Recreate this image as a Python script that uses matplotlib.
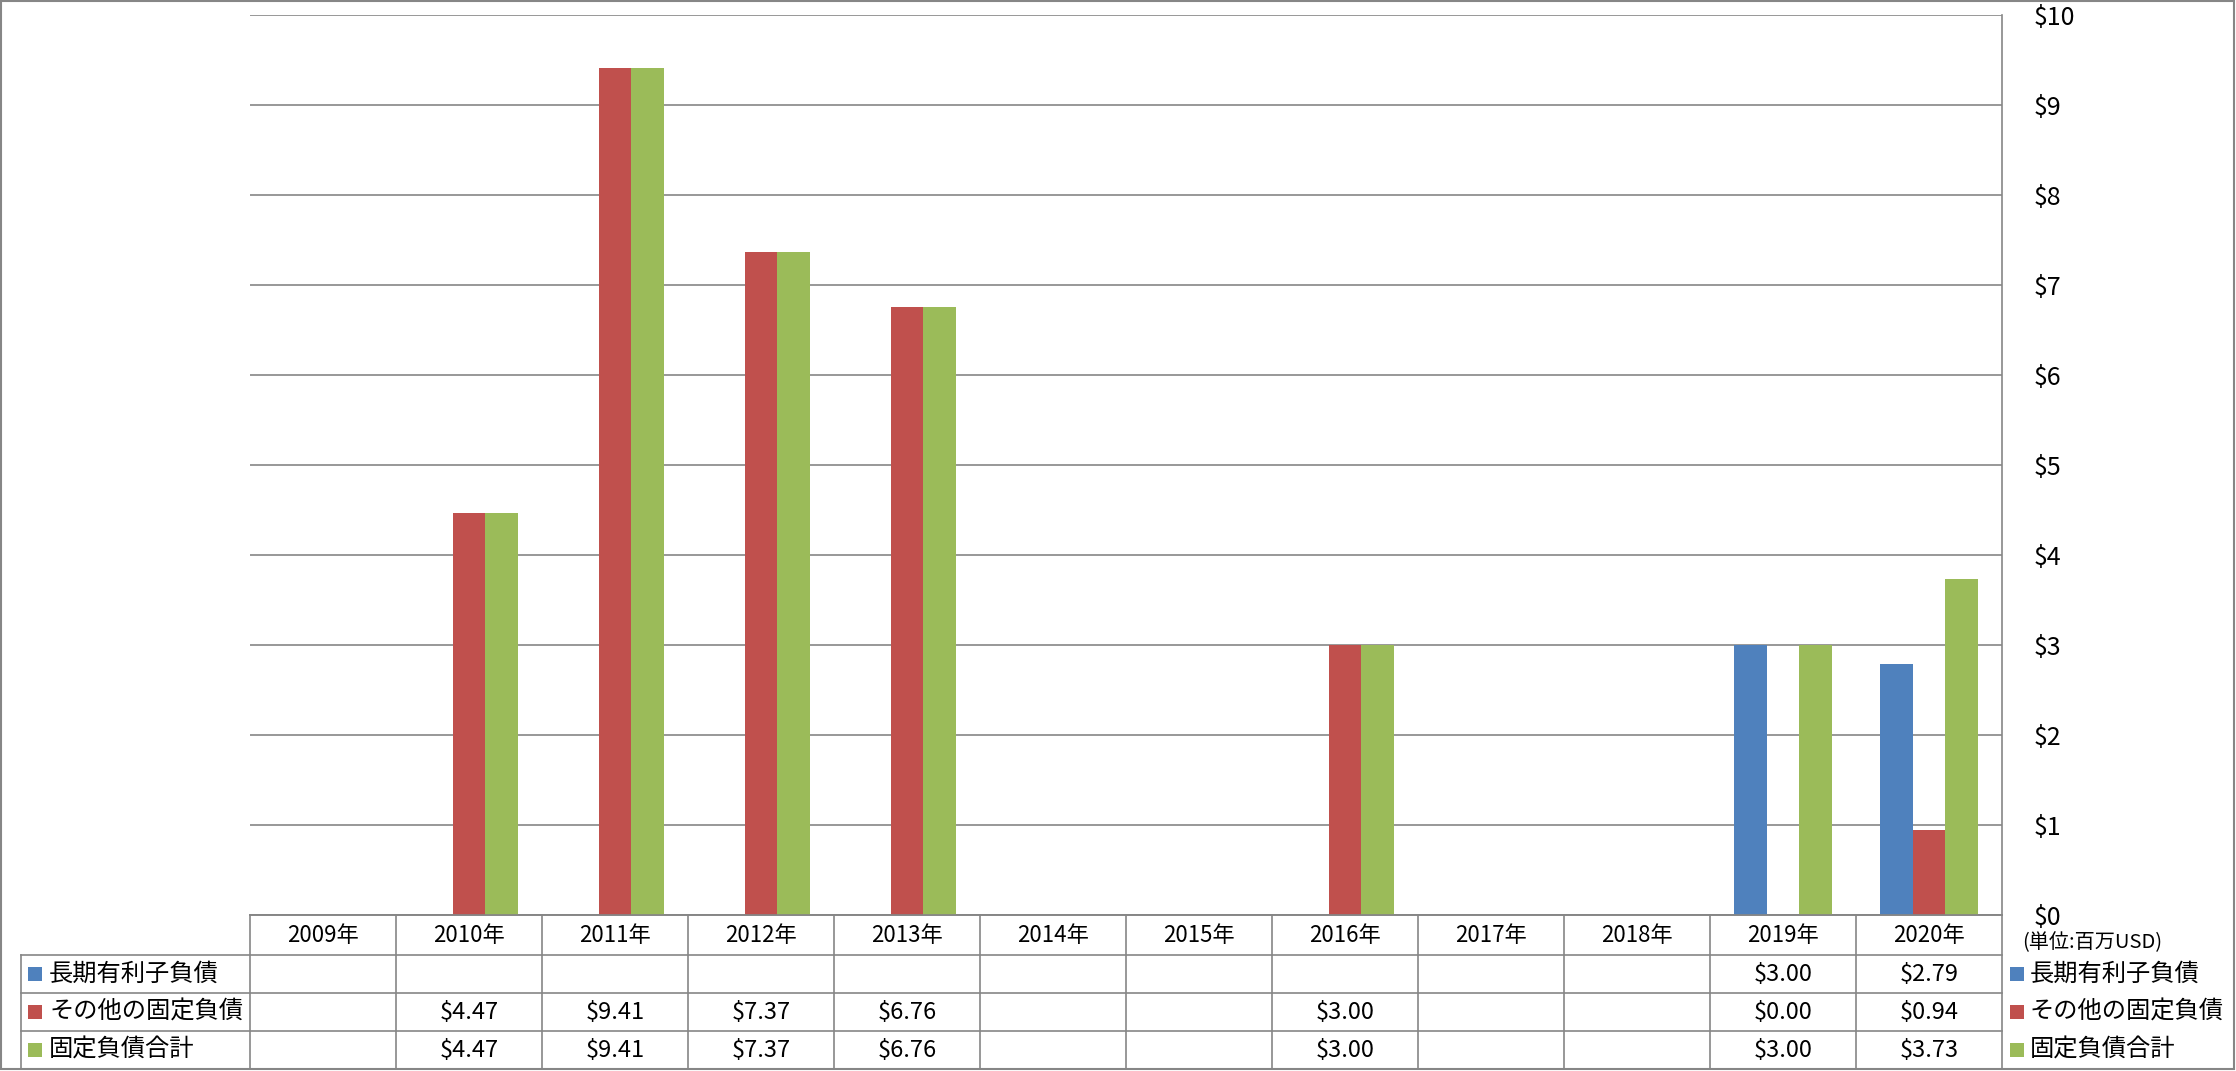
import matplotlib
matplotlib.use("Agg")
import matplotlib.pyplot as plt
from matplotlib.patches import Rectangle
from matplotlib.lines import Line2D
import numpy as np

plt.rcParams['font.family'] = ['Noto Sans CJK JP', 'DejaVu Sans']

# ---------------- data ----------------
years = ["2009年", "2010年", "2011年", "2012年", "2013年", "2014年",
         "2015年", "2016年", "2017年", "2018年", "2019年", "2020年"]
series_names = ["長期有利子負債", "その他の固定負債", "固定負債合計"]
long_term_debt = [None, None, None, None, None, None, None, None, None, None, 3.00, 2.79]
other_fixed = [None, 4.47, 9.41, 7.37, 6.76, None, None, 3.00, None, None, 0.00, 0.94]
total_fixed = [None, 4.47, 9.41, 7.37, 6.76, None, None, 3.00, None, None, 3.00, 3.73]
colors = ["#4F81BD", "#C0504D", "#9BBB59"]
y_ticks = [0, 1, 2, 3, 4, 5, 6, 7, 8, 9, 10]
unit_label = "(単位:百万USD)"

series = [long_term_debt, other_fixed, total_fixed]

# ---------------- layout (pixels) ----------------
W, H = 2236, 1071
DPI = 100
fig = plt.figure(figsize=(W / DPI, H / DPI), dpi=DPI)

PL, PR, PT, PB = 250, 2002, 15, 915   # plot area
TL = 21                                 # table left
row_edges = [915, 955, 993, 1031, 1069]
grid_c = "#868686"

ax = fig.add_axes([PL / W, 1 - PB / H, (PR - PL) / W, (PB - PT) / H])
n = len(years)
ax.set_xlim(-0.5, n - 0.5)
ax.set_ylim(0, 10)
bw = 1 / 4.5
x = np.arange(n)
for j, (vals, c) in enumerate(zip(series, colors)):
    v = np.array([np.nan if a is None else a for a in vals], dtype=float)
    ax.bar(x + (j - 1) * bw, v, width=bw, color=c, zorder=3, linewidth=0)

ax.set_yticks(y_ticks)
ax.yaxis.grid(True, color=grid_c, linewidth=1.2, zorder=0)
ax.yaxis.tick_right()
ax.tick_params(axis='y', length=0, pad=23, labelsize=18)
ax.set_yticklabels([f"${t}" for t in y_ticks])
ax.set_xticks([])
for s in ["left", "top"]:
    ax.spines[s].set_visible(False)
ax.spines["right"].set_color(grid_c)
ax.spines["right"].set_linewidth(1.2)
ax.spines["bottom"].set_color(grid_c)
ax.spines["bottom"].set_linewidth(1.2)

# ---------------- overlay for table (pixel coords) ----------------
ov = fig.add_axes([0, 0, 1, 1])
ov.set_xlim(0, W)
ov.set_ylim(H, 0)
ov.axis("off")
ov.patch.set_alpha(0)

colw = (PR - PL) / n
lw = 1.2
# horizontal lines
ov.add_line(Line2D([PL, PR], [row_edges[0]] * 2, color=grid_c, lw=lw))
for yy in row_edges[1:]:
    ov.add_line(Line2D([TL, PR], [yy, yy], color=grid_c, lw=lw))
# vertical lines
ov.add_line(Line2D([TL, TL], [row_edges[1], row_edges[-1]], color=grid_c, lw=lw))
for i in range(n + 1):
    xx = PL + i * colw
    ov.add_line(Line2D([xx, xx], [row_edges[0], row_edges[-1]], color=grid_c, lw=lw))

# header
for i, yr in enumerate(years):
    ov.text(PL + (i + 0.5) * colw, (row_edges[0] + row_edges[1]) / 2 + 1, yr,
            ha="center", va="center", fontsize=16)

# rows
for r, (name, vals, c) in enumerate(zip(series_names, series, colors)):
    yc = (row_edges[r + 1] + row_edges[r + 2]) / 2
    ov.add_patch(Rectangle((28, yc - 7), 14, 14, color=c, lw=0))
    ov.text(49, yc, name, ha="left", va="center", fontsize=17.5)
    for i, v in enumerate(vals):
        if v is not None:
            ov.text(PL + (i + 0.5) * colw, yc, f"${v:.2f}",
                    ha="center", va="center", fontsize=17)
    # right legend
    ov.add_patch(Rectangle((2010, yc - 7), 14, 14, color=c, lw=0))
    ov.text(2030, yc, name, ha="left", va="center", fontsize=17.5)

ov.text(2022, 943, unit_label, ha="left", va="center", fontsize=14.5)

# outer border
ov.add_patch(Rectangle((1, 1), W - 3, H - 3, fill=False, edgecolor=grid_c, lw=1.5))

fig.savefig("out.png", dpi=DPI)
